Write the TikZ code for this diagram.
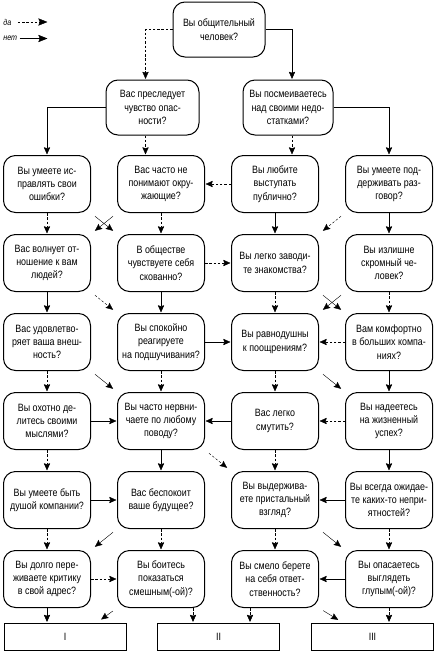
\documentclass[tikz,border=0pt]{standalone}
\usepackage{fontspec}
\setmainfont{Liberation Sans}[FakeStretch=0.84]
\usepackage{tikz}
\usetikzlibrary{positioning, arrows.meta, calc}
\newcommand{\Qfont}{\fontsize{10.6}{13.3}\selectfont}
\tikzset{
    question/.style={draw, line width=1pt, rounded corners=12pt, minimum width=87pt,
        minimum height=57pt, align=center, inner sep=1pt, font=\Qfont},
    result/.style={draw, line width=1pt, minimum width=122pt, minimum height=27pt, font=\Qfont},
    yesline/.style={dash pattern=on 2.5pt off 1.8pt},
    noline/.style={},
    diag/.style={shorten <=5pt, shorten >=4.5pt},
    legend/.style={inner sep=0pt, font=\fontsize{8.5}{10}\selectfont\itshape},
}

\begin{document}
\begin{tikzpicture}[x=1pt, y=1pt]
    \tikzset{
      -{Stealth[length=8pt, width=7pt, inset=1pt]},
      line width=0.85pt,
      node distance=21pt and 26pt
    }
    \useasboundingbox (0,0) rectangle (434,-651);

    % legend
    \node[legend, anchor=west] (lyes) at (3,-22) {да};
    \node[legend, anchor=west] (lno) at (3,-38.5) {нет};
    \coordinate (lyesend) at (48,-22);
    \coordinate (lnoend) at (48,-38.5);
    \draw[yesline, -{Stealth[length=10pt, width=8pt, inset=1.5pt]}] ([xshift=6pt]lyes.east) -- (lyesend);
    \draw[noline, -{Stealth[length=10pt, width=8pt, inset=1.5pt]}] ([xshift=2pt]lno.east) -- (lnoend);

    \node[question, minimum width=92pt, minimum height=55pt] (q0) at (219,-29.5) {Вы общительный\\человек?};
    \node[question, minimum width=93pt, minimum height=55pt] (q1) at (152.5,-107.5) {Вас преследует\\чувство опас-\\ности?};
    \node[question, minimum width=90pt, minimum height=55pt] (q2) at (288,-107.5) {Вы посмеиваетесь\\над своими недо-\\статками?};

    \node[question] (a1) at (47,-184) {Вы умеете ис-\\правлять свои\\ошибки?};
    \node[question, right=of a1] (a2) {Вас часто не\\понимают окру-\\жающие?};
    \node[question, right=of a2] (a3) {Вы любите\\выступать\\публично?};
    \node[question, right=of a3] (a4) {Вы умеете под-\\держивать раз-\\говор?};

    \node[question, below=of a1] (b1) {Вас волнует от-\\ношение к вам\\людей?};
    \node[question, below=of a2] (b2) {В обществе\\чувствуете себя\\скованно?};
    \node[question, below=of a3] (b3) {Вы легко заводи-\\те знакомства?};
    \node[question, below=of a4] (b4) {Вы излишне\\скромный че-\\ловек?};

    \node[question, below=of b1] (c1) {Вас удовлетво-\\ряет ваша внеш-\\ность?};
    \node[question, below=of b2] (c2) {Вы спокойно\\реагируете\\на подшучивания?};
    \node[question, below=of b3] (c3) {Вы равнодушны\\к поощрениям?};
    \node[question, below=of b4] (c4) {Вам комфортно\\в больших компа-\\ниях?};

    \node[question, below=of c1] (d1) {Вы охотно де-\\литесь своими\\мыслями?};
    \node[question, below=of c2] (d2) {Вы часто нервни-\\чаете по любому\\поводу?};
    \node[question, below=of c3] (d3) {Вас легко\\смутить?};
    \node[question, below=of c4] (d4) {Вы надеетесь\\на жизненный\\успех?};

    \node[question, below=of d1] (e1) {Вы умеете быть\\душой компании?};
    \node[question, below=of d2] (e2) {Вас беспокоит\\ваше будущее?};
    \node[question, below=of d3] (e3) {Вы выдержива-\\ете пристальный\\взгляд?};
    \node[question, below=of d4] (e4) {Вы всегда ожидае-\\те каких-то непри-\\ятностей?};

    \node[question, below=of e1] (f1) {Вы долго пере-\\живаете критику\\в свой адрес?};
    \node[question, below=of e2] (f2) {Вы боитесь\\показаться\\смешным(-ой)?};
    \node[question, below=of e3] (f3) {Вы смело берете\\на себя ответ-\\ственность?};
    \node[question, below=of e4] (f4) {Вы опасаетесь\\выглядеть\\глупым(-ой)?};

    \node[result] (r1) at (65,-636.5) {I};
    \node[result] (r2) at (218.5,-636.5) {II};
    \node[result] (r3) at (372.5,-636.5) {III};

    % top of the tree
    \draw[yesline] (q0.west) -| ([xshift=-7pt]q1.north);
    \draw[noline] (q0.east) -| ([xshift=4pt]q2.north);
    \draw[noline] (q1.west) -| (a1.north);
    \draw[yesline] ([xshift=-7pt]q1.south) -- ([xshift=-7pt]q1.south |- a2.north);
    \draw[yesline] ([xshift=4pt]q2.south) -- ([xshift=4pt]q2.south |- a3.north);
    \draw[noline] (q2.east) -| (a4.north);

    \draw[yesline] (a1) -- (b1);
    \draw[noline, diag] (a1.south east) -- (b2.north west);
    \draw[yesline] (a2) -- (b2);
    \draw[noline, diag] (a2.south west) -- (b1.north east);
    \draw[yesline] (a3) -- (a2);
    \draw[noline] (a3) -- (b3);
    \draw[yesline, diag] (a4.south west) -- (b3.north east);
    \draw[noline] (a4) -- (b4);

    \draw[noline] (b1) -- (c1);
    \draw[yesline, diag] (b1.south east) -- (c2.north west);
    \draw[yesline] (b2) -- (b3);
    \draw[noline] (b2) -- (c2);
    \draw[yesline] (b3) -- (c3);
    \draw[noline, diag] (b3.south east) -- (c4.north west);
    \draw[noline, diag] (b4.south west) -- (c3.north east);
    \draw[yesline] (b4) -- (c4);

    \draw[yesline] (c1) -- (d1);
    \draw[noline, diag] (c1.south east) -- (d2.north west);
    \draw[noline] (c2) -- (c3);
    \draw[yesline] (c2) -- (d2);
    \draw[yesline] (c3) -- (d3);
    \draw[noline, diag] (c3.south east) -- (d4.north west);
    \draw[yesline] (c4) -- (c3);
    \draw[noline] (c4) -- (d4);

    \draw[noline] (d1) -- (d2);
    \draw[yesline] (d1) -- (e1);
    \draw[noline] (d2) -- (e2);
    \draw[yesline, diag] (d2.south east) -- (e3.north west);
    \draw[noline] (d3) -- (d2);
    \draw[yesline] (d3) -- (e3);
    \draw[yesline] (d4) -- (d3);
    \draw[noline] (d4) -- (e4);

    \draw[noline] (e1) -- (e2);
    \draw[yesline] (e1) -- (f1);
    \draw[noline, diag] (e2.south west) -- (f1.north east);
    \draw[yesline] (e2) -- (f2);
    \draw[yesline] (e3) -- (f3);
    \draw[noline, diag] (e3.south east) -- (f4.north west);
    \draw[noline] (e4) -- (e3);
    \draw[yesline] (e4) -- (f4);

    % results
    \draw[yesline] (f1) -- (f2);
    \draw[noline] (f1) -- (f1 |- r1.north);
    \draw[noline, diag] (f2.south west) -- ([xshift=32pt]r1.north);
    \draw[yesline] ([xshift=32pt]f2.south) -- ([xshift=32pt]f2.south |- r2.north);
    \draw[yesline] ([xshift=-25pt]f3.south) -- ([xshift=-25pt]f3.south |- r2.north);
    \draw[noline, diag] (f3.south east) -- ([xshift=-30pt]r3.north);
    \draw[noline] (f4) -- (f3);
    \draw[yesline] (f4) -- (f4 |- r3.north);
\end{tikzpicture}
\end{document}
